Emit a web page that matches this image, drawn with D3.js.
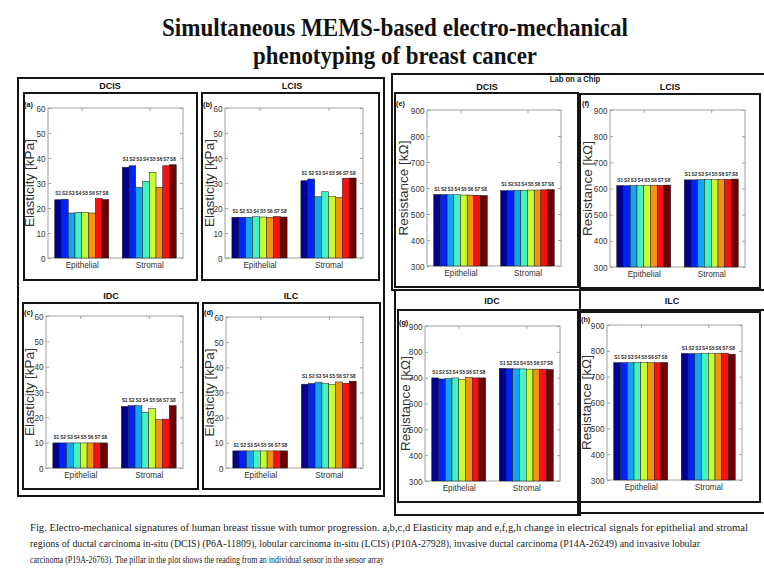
<!DOCTYPE html>
<html>
<head>
<meta charset="utf-8">
<script src="https://cdn.jsdelivr.net/npm/d3@7"></script>
<style>
  html, body { margin: 0; padding: 0; background: #ffffff; }
  svg { display: block; }
</style>
</head>
<body>
<div id="chart"></div>
<script>
// ---------------- DATA ----------------
const sensors = ["S1", "S2", "S3", "S4", "S5", "S6", "S7", "S8"];
const regions = ["Epithelial", "Stromal"];
const elasticityTicks = [0, 10, 20, 30, 40, 50, 60];
const resistanceTicks = [300, 400, 500, 600, 700, 800, 900];

// Elasticity [kPa]
const dcisElasticityEpithelial = [23.3, 23.5, 18.0, 18.3, 18.3, 18.0, 23.8, 23.4];
const dcisElasticityStromal    = [36.3, 36.9, 28.3, 30.7, 34.3, 28.3, 36.9, 37.3];
const lcisElasticityEpithelial = [16.3, 16.3, 16.3, 16.5, 16.4, 16.3, 16.6, 16.4];
const lcisElasticityStromal    = [30.9, 31.6, 24.5, 26.5, 24.7, 24.3, 31.9, 32.0];
const idcElasticityEpithelial  = [9.9, 9.9, 9.9, 9.9, 9.9, 9.9, 9.9, 9.9];
const idcElasticityStromal     = [24.3, 24.6, 24.6, 22.0, 23.4, 19.1, 19.3, 24.6];
const ilcElasticityEpithelial  = [6.8, 6.8, 6.8, 6.8, 6.8, 6.8, 6.8, 6.8];
const ilcElasticityStromal     = [33.3, 33.6, 34.1, 33.6, 33.2, 34.2, 33.7, 34.5];

// Resistance [kΩ]
const dcisResistanceEpithelial = [575, 575, 574, 574, 573, 573, 572, 571];
const dcisResistanceStromal    = [590, 590, 591, 591, 592, 592, 593, 594];
const lcisResistanceEpithelial = [611, 611, 611, 611, 612, 612, 612, 613];
const lcisResistanceStromal    = [633, 633, 634, 634, 634, 635, 635, 636];
const idcResistanceEpithelial  = [699, 695, 696, 699, 693, 701, 699, 699];
const idcResistanceStromal     = [736, 735, 734, 734, 733, 733, 733, 732];
const ilcResistanceEpithelial  = [754, 754, 754, 754, 754, 754, 754, 755];
const ilcResistanceStromal     = [790, 789, 789, 789, 789, 789, 791, 787];

const titleLines = ["Simultaneous MEMS-based electro-mechanical", "phenotyping of breast cancer"];
const captionLines = [
  "Fig. Electro-mechanical signatures of human breast tissue with tumor progression. a,b,c,d Elasticity map and e,f,g,h change in electrical signals for epithelial and stromal",
  "regions of ductal carcinoma in-situ (DCIS) (P6A-11809), lobular carcinoma in-situ (LCIS) (P10A-27928), invasive ductal carcinoma (P14A-26249) and invasive lobular",
  "carcinoma (P19A-26763). The pillar in the plot shows the reading from an individual sensor in the sensor array"
];

// ---------------- STYLE / LAYOUT ----------------
const sensorColors = ["#00008c", "#0022ff", "#12a6f0", "#44f2c4", "#c6ff34", "#f29412", "#fb1010", "#6e0000"];
const W = 764, H = 574;
const sansFont = "Liberation Sans, Arial, sans-serif";
const serifFont = "Liberation Serif, Times New Roman, serif";

// horizontally condense text (the reference is slightly squeezed)
function condense(sel, f) {
  sel.each(function () {
    const l = this.getComputedTextLength();
    d3.select(this).attr("textLength", l * f).attr("lengthAdjust", "spacingAndGlyphs");
  });
}

const svg = d3.select("#chart").append("svg").attr("width", W).attr("height", H);
svg.append("rect").attr("width", W).attr("height", H).attr("fill", "#ffffff");

// Title
svg.append("text").attr("x", 395).attr("y", 36).attr("text-anchor", "middle")
  .attr("font-family", serifFont).attr("font-weight", "bold").attr("font-size", 25)
  .attr("textLength", 466).attr("lengthAdjust", "spacingAndGlyphs").attr("fill", "#111")
  .text(titleLines[0]);
svg.append("text").attr("x", 395).attr("y", 64).attr("text-anchor", "middle")
  .attr("font-family", serifFont).attr("font-weight", "bold").attr("font-size", 25)
  .attr("textLength", 284).attr("lengthAdjust", "spacingAndGlyphs").attr("fill", "#111")
  .text(titleLines[1]);

// Outer frames
const frame = (x0, y0, x1, y1, w) => svg.append("rect")
  .attr("x", x0).attr("y", y0).attr("width", x1 - x0).attr("height", y1 - y0)
  .attr("fill", "none").attr("stroke", "#151515").attr("stroke-width", w || 2);

frame(18, 78, 384, 496, 2);          // left block
frame(392, 74, 768, 290, 2);         // right top block
frame(395, 290, 580, 515, 2);        // right bottom (IDC)
frame(578, 310, 768, 513, 2);        // right bottom (ILC)

// "Lab on a Chip"
const lab = svg.append("text").attr("x", 575).attr("y", 82).attr("text-anchor", "middle")
  .attr("font-family", sansFont).attr("font-weight", "bold").attr("font-size", 8.5)
  .attr("fill", "#222").text("Lab on a Chip");
condense(lab, 0.9);

// Panel configs (layout only)
const panels = [
  { id: "(a)", title: "DCIS", tx: 110, ty: 89, fr: [24, 93, 197, 280], ax: [48, 108, 183, 258], ylx: 29.5, idx: 24, idy: 107,
    domain: [0, 60], ticks: elasticityTicks, ylabel: "Elasticity [kPa]", epi: dcisElasticityEpithelial, str: dcisElasticityStromal },
  { id: "(b)", title: "LCIS", tx: 292, ty: 89, fr: [202, 93, 379, 280], ax: [225, 108, 363, 258], ylx: 209.5, idx: 203, idy: 107,
    domain: [0, 60], ticks: elasticityTicks, ylabel: "Elasticity [kPa]", epi: lcisElasticityEpithelial, str: lcisElasticityStromal },
  { id: "(c)", title: "IDC", tx: 111, ty: 299, fr: [23, 303, 198, 489], ax: [46, 316, 183, 468], ylx: 29.5, idx: 24, idy: 315,
    domain: [0, 60], ticks: elasticityTicks, ylabel: "Elasticity [kPa]", epi: idcElasticityEpithelial, str: idcElasticityStromal },
  { id: "(d)", title: "ILC", tx: 291, ty: 299, fr: [203, 303, 380, 489], ax: [226, 317, 363, 468], ylx: 209.5, idx: 204, idy: 315,
    domain: [0, 60], ticks: elasticityTicks, ylabel: "Elasticity [kPa]", epi: ilcElasticityEpithelial, str: ilcElasticityStromal },
  { id: "(e)", title: "DCIS", tx: 487, ty: 90, fr: [395, 93, 578, 287], ax: [427, 110, 561, 266], ylx: 403.5, idx: 396, idy: 106,
    domain: [300, 900], ticks: resistanceTicks, ylabel: "Resistance [kΩ]", epi: dcisResistanceEpithelial, str: dcisResistanceStromal },
  { id: "(f)", title: "LCIS", tx: 670, ty: 90, fr: [580, 94, 760, 288], ax: [610, 110, 745, 267], ylx: 587, idx: 582, idy: 106,
    domain: [300, 900], ticks: resistanceTicks, ylabel: "Resistance [kΩ]", epi: lcisResistanceEpithelial, str: lcisResistanceStromal },
  { id: "(g)", title: "IDC", tx: 492, ty: 304, fr: [398, 310, 579, 502], ax: [425, 326, 560, 481], ylx: 405, idx: 399, idy: 325,
    domain: [300, 900], ticks: resistanceTicks, ylabel: "Resistance [kΩ]", epi: idcResistanceEpithelial, str: idcResistanceStromal },
  { id: "(h)", title: "ILC", tx: 672, ty: 304, fr: [579, 312, 760, 502], ax: [607, 325, 742, 480], ylx: 586, idx: 581, idy: 322,
    domain: [300, 900], ticks: resistanceTicks, ylabel: "Resistance [kΩ]", epi: ilcResistanceEpithelial, str: ilcResistanceStromal }
];

panels.forEach(p => {
  const [fx0, fy0, fx1, fy1] = p.fr;
  frame(fx0, fy0, fx1, fy1, 2);

  // block title
  svg.append("text").attr("x", p.tx).attr("y", p.ty).attr("text-anchor", "middle")
    .attr("font-family", sansFont).attr("font-weight", "bold").attr("font-size", 9)
    .attr("fill", "#111").text(p.title);

  const [x0, y0, x1, y1] = p.ax;
  const x = d3.scaleLinear().domain([0.5, 2.5]).range([x0, x1]);
  const y = d3.scaleLinear().domain(p.domain).range([y1, y0]);
  const g = svg.append("g");

  // axis box
  g.append("rect").attr("x", x0).attr("y", y0).attr("width", x1 - x0).attr("height", y1 - y0)
    .attr("fill", "#ffffff").attr("stroke", "#a0a0a0").attr("stroke-width", 1);

  // y axis (left, ticks inward) and mirror on right
  const yAxisL = d3.axisLeft(y).tickValues(p.ticks).tickSizeInner(-3).tickSizeOuter(0).tickPadding(2.5);
  const gl = g.append("g").attr("transform", `translate(${x0},0)`).call(yAxisL);
  gl.select(".domain").remove();
  gl.selectAll(".tick line").attr("stroke", "#a0a0a0");
  gl.selectAll(".tick text").attr("font-family", sansFont).attr("font-size", 9.5).attr("fill", "#333");
  condense(gl.selectAll(".tick text"), 0.86);

  const yAxisR = d3.axisRight(y).tickValues(p.ticks).tickSizeInner(-3).tickSizeOuter(0).tickFormat("");
  const gr = g.append("g").attr("transform", `translate(${x1},0)`).call(yAxisR);
  gr.select(".domain").remove();
  gr.selectAll(".tick line").attr("stroke", "#a0a0a0");

  // x axis (bottom labels, ticks inward) and top mirror
  const xAxisB = d3.axisBottom(x).tickValues([1, 2]).tickFormat((d, i) => regions[i])
    .tickSizeInner(-3).tickSizeOuter(0).tickPadding(3.5);
  const gb = g.append("g").attr("transform", `translate(0,${y1})`).call(xAxisB);
  gb.select(".domain").remove();
  gb.selectAll(".tick line").attr("stroke", "#a0a0a0");
  gb.selectAll(".tick text").attr("font-family", sansFont).attr("font-size", 9.5).attr("fill", "#333");
  condense(gb.selectAll(".tick text"), 0.86);

  const xAxisT = d3.axisTop(x).tickValues([1, 2]).tickFormat("").tickSizeInner(-3).tickSizeOuter(0);
  const gt = g.append("g").attr("transform", `translate(0,${y0})`).call(xAxisT);
  gt.select(".domain").remove();
  gt.selectAll(".tick line").attr("stroke", "#a0a0a0");

  // bars
  const groupWidth = 0.8, n = sensors.length, bw = groupWidth / n;
  [p.epi, p.str].forEach((vals, gi) => {
    const center = gi + 1;
    const bars = vals.map((v, i) => ({ v, i, x0: center - groupWidth / 2 + i * bw }));
    g.selectAll(null).data(bars).enter().append("rect")
      .attr("x", d => x(d.x0))
      .attr("y", d => y(d.v))
      .attr("width", d => x(d.x0 + bw) - x(d.x0))
      .attr("height", d => y(p.domain[0]) - y(d.v))
      .attr("fill", d => sensorColors[d.i])
      .attr("stroke", "#1a1a1a").attr("stroke-width", 0.5);
    const top = y(d3.max(vals));
    const lbl = g.selectAll(null).data(bars).enter().append("text")
      .attr("x", d => x(d.x0 + bw / 2))
      .attr("y", top - 3.5)
      .attr("text-anchor", "middle")
      .attr("font-family", sansFont).attr("font-weight", "bold").attr("font-size", 5.8)
      .attr("fill", "#222")
      .text(d => sensors[d.i]);
    condense(lbl, 0.8);
  });

  // y label
  const yc = (y0 + y1) / 2;
  svg.append("text").attr("transform", `translate(${p.ylx},${yc}) rotate(-90)`)
    .attr("text-anchor", "middle").attr("dominant-baseline", "central")
    .attr("font-family", sansFont).attr("font-size", 13.5).attr("fill", "#333")
    .text(p.ylabel);

  // panel id
  const idt = svg.append("text").attr("x", p.idx).attr("y", p.idy)
    .attr("font-family", sansFont).attr("font-weight", "bold").attr("font-size", 8)
    .attr("fill", "#111").text(p.id);
  condense(idt, 0.9);
});

// Caption
const capLengths = [718, 670, 354];
const capY = [531, 547, 563];
captionLines.forEach((line, i) => {
  svg.append("text").attr("x", 30).attr("y", capY[i])
    .attr("font-family", serifFont).attr("font-size", 10.5).attr("fill", "#222")
    .attr("textLength", capLengths[i]).attr("lengthAdjust", "spacingAndGlyphs")
    .text(line);
});
</script>
</body>
</html>
